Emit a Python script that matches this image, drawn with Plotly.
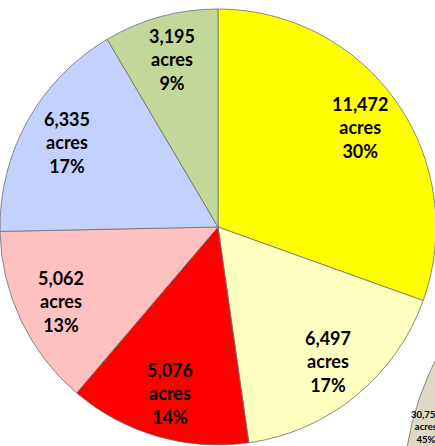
import math
import plotly.graph_objects as go

# ---- data ----
categories = ["A", "B", "C", "D", "E", "F"]
acres = [11472, 6497, 5076, 5062, 6335, 3195]
percents = [30, 17, 14, 13, 17, 9]
colors = ["#FFFF00", "#FFFFC0", "#FF0000", "#FFC0C0", "#C3D2FC", "#C4D79B"]

other_categories = ["Other", "Rest"]
other_acres = [30750, 37637]
other_percents = [45, 55]
other_colors = ["#DDD9C4", "#B9B3A0"]

# ---- geometry (pixels) ----
W, H = 1010, 800
cx, cy, R = 218, 227, 218          # main pie
cx2, cy2, R2 = 703, 496, 300       # second pie (mostly off-window)
rot2 = 203
LABEL_K = 0.795
LABEL_K2 = 0.95


def px_to_paper(x, y):
    return x / W, 1 - y / H


fig = go.Figure()
fig.add_trace(go.Pie(
    labels=categories, values=acres, sort=False, direction="clockwise", rotation=0,
    marker=dict(colors=colors, line=dict(color="#6E6E6E", width=0.8)),
    textinfo="none", hoverinfo="label+value", showlegend=False,
    domain=dict(x=[(cx - R) / W, (cx + R) / W], y=[1 - (cy + R) / H, 1 - (cy - R) / H]),
))
fig.add_trace(go.Pie(
    labels=other_categories, values=other_acres, sort=False, direction="clockwise", rotation=rot2,
    marker=dict(colors=other_colors, line=dict(color="#6E6E6E", width=0.8)),
    textinfo="none", hoverinfo="label+value", showlegend=False,
    domain=dict(x=[(cx2 - R2) / W, (cx2 + R2) / W], y=[1 - (cy2 + R2) / H, 1 - (cy2 - R2) / H]),
))

annotations = []


def add_labels(vals, pcts, ccx, ccy, rr, rot, k, size, only_first=False):
    total = sum(vals)
    cum = 0
    for i, (v, p) in enumerate(zip(vals, pcts)):
        mid = math.radians(rot + (cum + v / 2) / total * 360)
        cum += v
        if only_first and i > 0:
            continue
        x = ccx + k * rr * math.sin(mid)
        y = ccy - k * rr * math.cos(mid)
        xp, yp = px_to_paper(x, y)
        annotations.append(dict(
            x=xp, y=yp, xref="paper", yref="paper", xanchor="center", yanchor="middle",
            showarrow=False, align="center",
            text=f"{v:,}<br>acres<br>{p}%",
            font=dict(family="Lato, Open Sans, sans-serif", size=size, color="#000000", weight="bold"),
        ))


add_labels(acres, percents, cx, cy, R, 0, LABEL_K, 18)
add_labels(other_acres, other_percents, cx2, cy2, R2, rot2, LABEL_K2, 9.5, only_first=True)

fig.update_layout(
    width=W, height=H, margin=dict(l=0, r=0, t=0, b=0),
    paper_bgcolor="white", plot_bgcolor="white",
    annotations=annotations, showlegend=False,
)

fig.write_html(
    "out.html",
    post_script="document.body.style.margin='0';document.body.style.overflow='hidden';"
                "document.documentElement.style.overflow='hidden';",
)
